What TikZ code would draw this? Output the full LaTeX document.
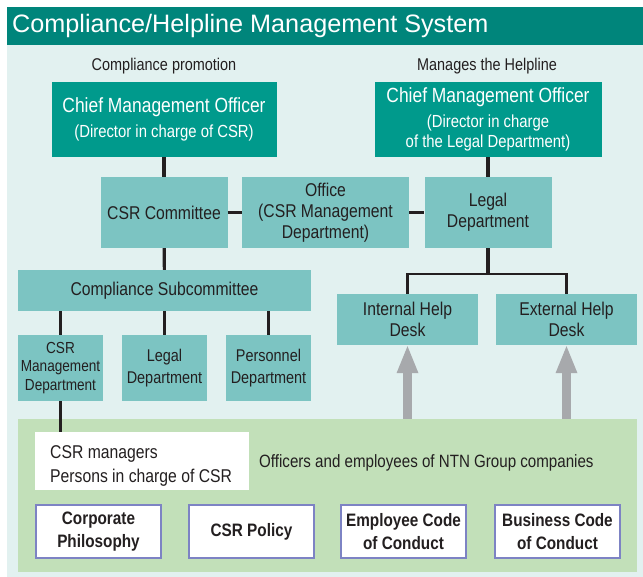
\documentclass[tikz,border=0pt]{standalone}
\usepackage{fontspec}
\setmainfont[FakeStretch=0.85]{Liberation Sans}
\newfontfamily\titlefont{Liberation Sans}
\usetikzlibrary{arrows.meta}
\definecolor{titlebar}{HTML}{00857B}
\definecolor{cmofill}{HTML}{009A8C}
\definecolor{boxfill}{HTML}{7CC4C2}
\definecolor{bgfill}{HTML}{E2F1F0}
\definecolor{greenfill}{HTML}{C2E0B9}
\definecolor{arrowgray}{HTML}{A7A9AC}
\definecolor{docborder}{HTML}{7D83C4}
\definecolor{ink}{HTML}{231F20}
\newcommand\fsTitle{\fontsize{25.2}{28}\selectfont}
\newcommand\fsCmo{\fontsize{20.5}{25}\selectfont}
\newcommand\fsSub{\fontsize{17.5}{20}\selectfont}
\newcommand\fsBox{\fontsize{18.5}{21}\selectfont}
\newcommand\fsSmall{\fontsize{16}{18.5}\selectfont}
\newcommand\fsMid{\fontsize{17}{21}\selectfont}
\newcommand\fsDoc{\fontsize{18}{23}\selectfont}
\begin{document}
\begin{tikzpicture}[x=1pt,y=-1pt,
  cmobox/.style={fill=cmofill,text=white,inner sep=0pt,align=center,font=\fsSub},
  tealbox/.style={fill=boxfill,text=ink,inner sep=0pt,align=center,font=\fsBox},
  docbox/.style={fill=white,draw=docborder,line width=2.5pt,text=ink,inner sep=0pt,align=center,font=\fsDoc\bfseries,minimum width=125pt,minimum height=53pt},
  conn/.style={draw=ink,line width=3.2pt},
  uparrow/.style={draw=arrowgray,line width=9pt,-{Triangle[width=22pt,length=27pt,line width=0pt]},shorten >=1pt},
  caption/.style={text=ink,inner sep=0pt,font=\fsMid}]
\useasboundingbox (0,0) rectangle (643,577);
\fill[white] (0,0) rectangle (643,577);
% background and title
\fill[bgfill] (7,45) rectangle (643,577);
\fill[titlebar] (7,7) rectangle (643,45);
\node[anchor=west,text=white,inner sep=0pt,font=\titlefont\fsTitle] (title) at (12,26) {Compliance/Helpline Management System};
% green region
\node[fill=greenfill,minimum width=619pt,minimum height=153pt,inner sep=0pt] (group) at (327.5,495.5) {};
% captions
\node[caption] (capL) at (164,66) {Compliance promotion};
\node[caption] (capR) at (487,66) {Manages the Helpline};
% top boxes
\node[cmobox,minimum width=225pt,minimum height=75pt] (cmoL) at (164,119.5)
  {{\fsCmo Chief Management Officer}\\[5pt](Director in charge of CSR)};
\node[cmobox,minimum width=227pt,minimum height=75pt] (cmoR) at (488,119.5)
  {{\fsCmo Chief Management Officer}\\[5pt](Director in charge\\of the Legal Department)};
\node[tealbox,minimum width=127pt,minimum height=71pt] (csrc) at (164,212.5) {CSR Committee};
\node[tealbox,minimum width=167pt,minimum height=71pt] (office) at (325.5,212.5) {Office\\(CSR Management\\Department)};
\node[tealbox,minimum width=127pt,minimum height=71pt] (legal) at (488,212.5) {Legal\\Department};
\node[tealbox,minimum width=293pt,minimum height=41pt] (subc) at (164.5,290.5) {Compliance Subcommittee};
\node[tealbox,minimum width=85pt,minimum height=66pt,font=\fsSmall] (csrm) at (60.5,368) {CSR\\Management\\Department};
\node[tealbox,minimum width=85pt,minimum height=66pt,font=\fontsize{17}{21.5}\selectfont] (legal2) at (164.5,368) {Legal\\Department};
\node[tealbox,minimum width=85pt,minimum height=66pt,font=\fontsize{17}{21.5}\selectfont] (pers) at (268.5,368) {Personnel\\Department};
\node[tealbox,minimum width=141pt,minimum height=51pt] (ihd) at (407.5,319.5) {Internal Help\\Desk};
\node[tealbox,minimum width=141pt,minimum height=51pt] (ehd) at (566.5,319.5) {External Help\\Desk};
% bottom content
\node[fill=white,minimum width=214pt,minimum height=58pt,inner sep=0pt] (wbox) at (142,461) {};
\node[anchor=west,text=ink,inner sep=0pt,align=left,font=\fontsize{18.5}{24}\selectfont] (wtext) at (50,466) {CSR managers\\Persons in charge of CSR};
\node[anchor=west,caption,font=\fontsize{17.8}{21}\selectfont] (officers) at (259,463) {Officers and employees of NTN Group companies};
\node[docbox] (d1) at (98.5,531.5) {Corporate\\Philosophy};
\node[docbox] (d2) at (251.5,531.5) {CSR Policy};
\node[docbox] (d3) at (403.5,531.5) {Employee Code\\of Conduct};
\node[docbox] (d4) at (557.5,531.5) {Business Code\\of Conduct};
% connectors
\coordinate (branch) at (488,274);
\draw[conn] (cmoL) -- (csrc);
\draw[conn] (cmoR) -- (legal);
\draw[conn] (csrc) -- (office);
\draw[conn] (office) -- (legal);
\draw[conn] (csrc) -- (subc);
\draw[conn] (csrm.north |- subc.south) -- (csrm.north);
\draw[conn] (legal2.north |- subc.south) -- (legal2.north);
\draw[conn] (pers.north |- subc.south) -- (pers.north);
\draw[conn] (csrm.south) -- (csrm.south |- wbox.north);
\draw[conn] (legal.south) -- (branch);
\draw[conn,line width=2.8pt] (ihd.north) |- (branch) -| (ehd.north);
\draw[uparrow] (ihd.south |- group.north) -- (ihd.south);
\draw[uparrow] (ehd.south |- group.north) -- (ehd.south);
\end{tikzpicture}
\end{document}
